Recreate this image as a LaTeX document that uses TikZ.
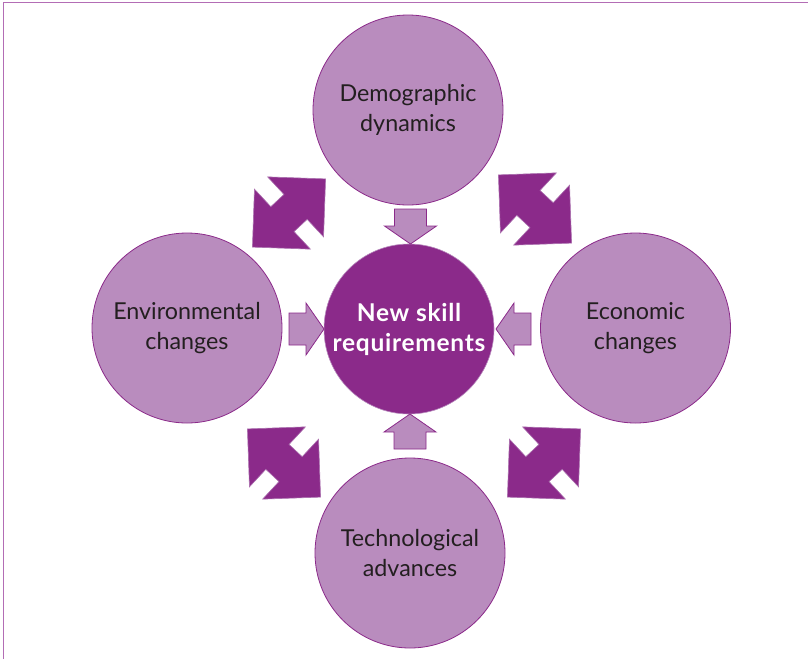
\documentclass[tikz,border=0pt]{standalone}
\usepackage{fontspec}
\setmainfont{Lato}
\definecolor{darkpurple}{HTML}{8B2A8A}
\definecolor{lightpurple}{HTML}{B98CBE}
\definecolor{framepurple}{HTML}{B36DB5}
\definecolor{textdark}{HTML}{231F20}
\tikzset{
  outer/.style={circle, minimum size=190pt, inner sep=0pt, fill=lightpurple, draw=darkpurple, line width=0.8pt,
    align=center, text=textdark, font=\fontsize{23.3}{30}\selectfont},
  inner/.style={circle, minimum size=170pt, inner sep=0pt, fill=darkpurple, draw=lightpurple, line width=0.6pt,
    align=center, text=white, font=\fontsize{24.5}{30}\selectfont\bfseries\addfontfeature{LetterSpace=3}},
  smallarr/.style={fill=lightpurple, draw=darkpurple, line width=0.8pt, line join=miter},
  bigarr/.style={fill=darkpurple, draw=lightpurple!70!darkpurple, line width=0.6pt, line join=miter},
  smallarrow/.pic={\path[smallarr] (-17,-16) -- (0,-16) -- (0,-26) -- (18,0) -- (0,26) -- (0,16) -- (-17,16) -- cycle;},
  dblarrow/.pic={\path[bigarr] (50,0) -- (9,41) -- (9,17) -- (-9,17) -- (-9,41) -- (-50,0) -- (-9,-41) -- (-9,-17) -- (9,-17) -- (9,-41) -- cycle;}
}
\begin{document}
\begin{tikzpicture}[x=1pt,y=-1pt]
\useasboundingbox (0,0) rectangle (808,659);
\draw[framepurple, line width=1.8pt] (3.5,659) -- (3.5,2.5) -- (808,2.5);
% circles
\node[outer] (top) at (408,110) {Demographic\\dynamics};
\node[outer] (left) at (187,328) {Environmental\\changes};
\node[outer] (right) at (635.5,328) {Economic\\changes};
\node[outer] (bottom) at (410,553) {Technological\\advances};
\node[inner] (center) at (409,329) {New skill\\requirements};
% small arrows toward the centre
\pic[rotate=-90] at (410.5,226) {smallarrow};
\pic at (306,329) {smallarrow};
\pic[rotate=180] at (514,329) {smallarrow};
\pic[rotate=90] at (410,432) {smallarrow};
% diagonal double arrows
\pic[rotate=43] at (289,213) {dblarrow};
\pic[rotate=-43] at (535,209) {dblarrow};
\pic[rotate=-43] at (284,463) {dblarrow};
\pic[rotate=43] at (544,463) {dblarrow};
\end{tikzpicture}
\end{document}
